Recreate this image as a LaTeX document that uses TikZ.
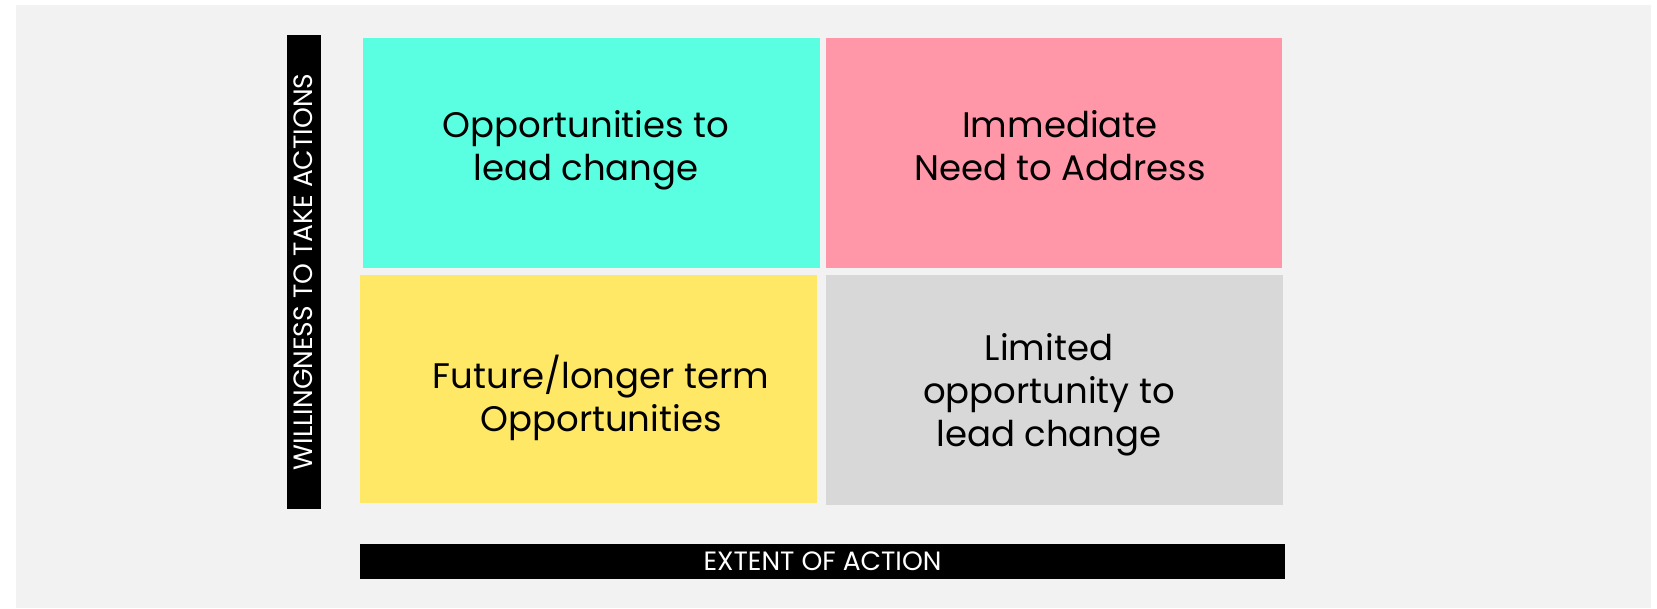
\documentclass[tikz,border=0pt]{standalone}
\usepackage{fontspec}
\setmainfont{Poppins}

\definecolor{fondo}{HTML}{F2F2F2}
\definecolor{turquesa}{HTML}{5AFFE1}
\definecolor{rosa}{HTML}{FF97A8}
\definecolor{amarillo}{HTML}{FFE866}
\definecolor{grisclaro}{HTML}{D8D8D8}

\tikzset{
    cuadro/.style={inner sep=0pt, minimum width=457pt, minimum height=230pt},
    texto/.style={align=center, inner sep=0pt, font=\fontsize{35.5}{43}\selectfont},
    barra/.style={fill=black, text=white, inner sep=0pt, font=\fontsize{26.5}{26.5}\selectfont},
}

\begin{document}
\begin{tikzpicture}[x=1pt,y=-1pt]

    %Fondo
    \useasboundingbox (0,0) rectangle (1657,608);
    \fill[fondo] (16,5) rectangle (1651,608);

    %Cuadrantes
    \node[cuadro, fill=turquesa] (c1) at (591.5,153) {};
    \node[cuadro, fill=rosa, minimum width=456pt] (c2) at (1054,153) {};
    \node[cuadro, fill=amarillo, minimum height=228pt] (c3) at (588.5,389) {};
    \node[cuadro, fill=grisclaro] (c4) at (1054.5,390) {};

    %Textos
    \node[texto] (t1) at (586,150) {Opportunities to\\lead change};
    \node[texto] (t2) at (1060,146) {Immediate\\Need to Address};
    \node[texto] (t3) at (601,398) {Future/longer term\\Opportunities};
    \node[texto] (t4) at (1049,395) {Limited\\opportunity to\\lead change};

    %Ejes
    \node[barra, rotate=90, minimum width=474pt, minimum height=34pt] (ejey) at (303.5,272) {WILLINGNESS TO TAKE ACTIONS};
    \node[barra, minimum width=925pt, minimum height=35pt] (ejex) at (822.5,561.5) {EXTENT OF ACTION};

\end{tikzpicture}
\end{document}
